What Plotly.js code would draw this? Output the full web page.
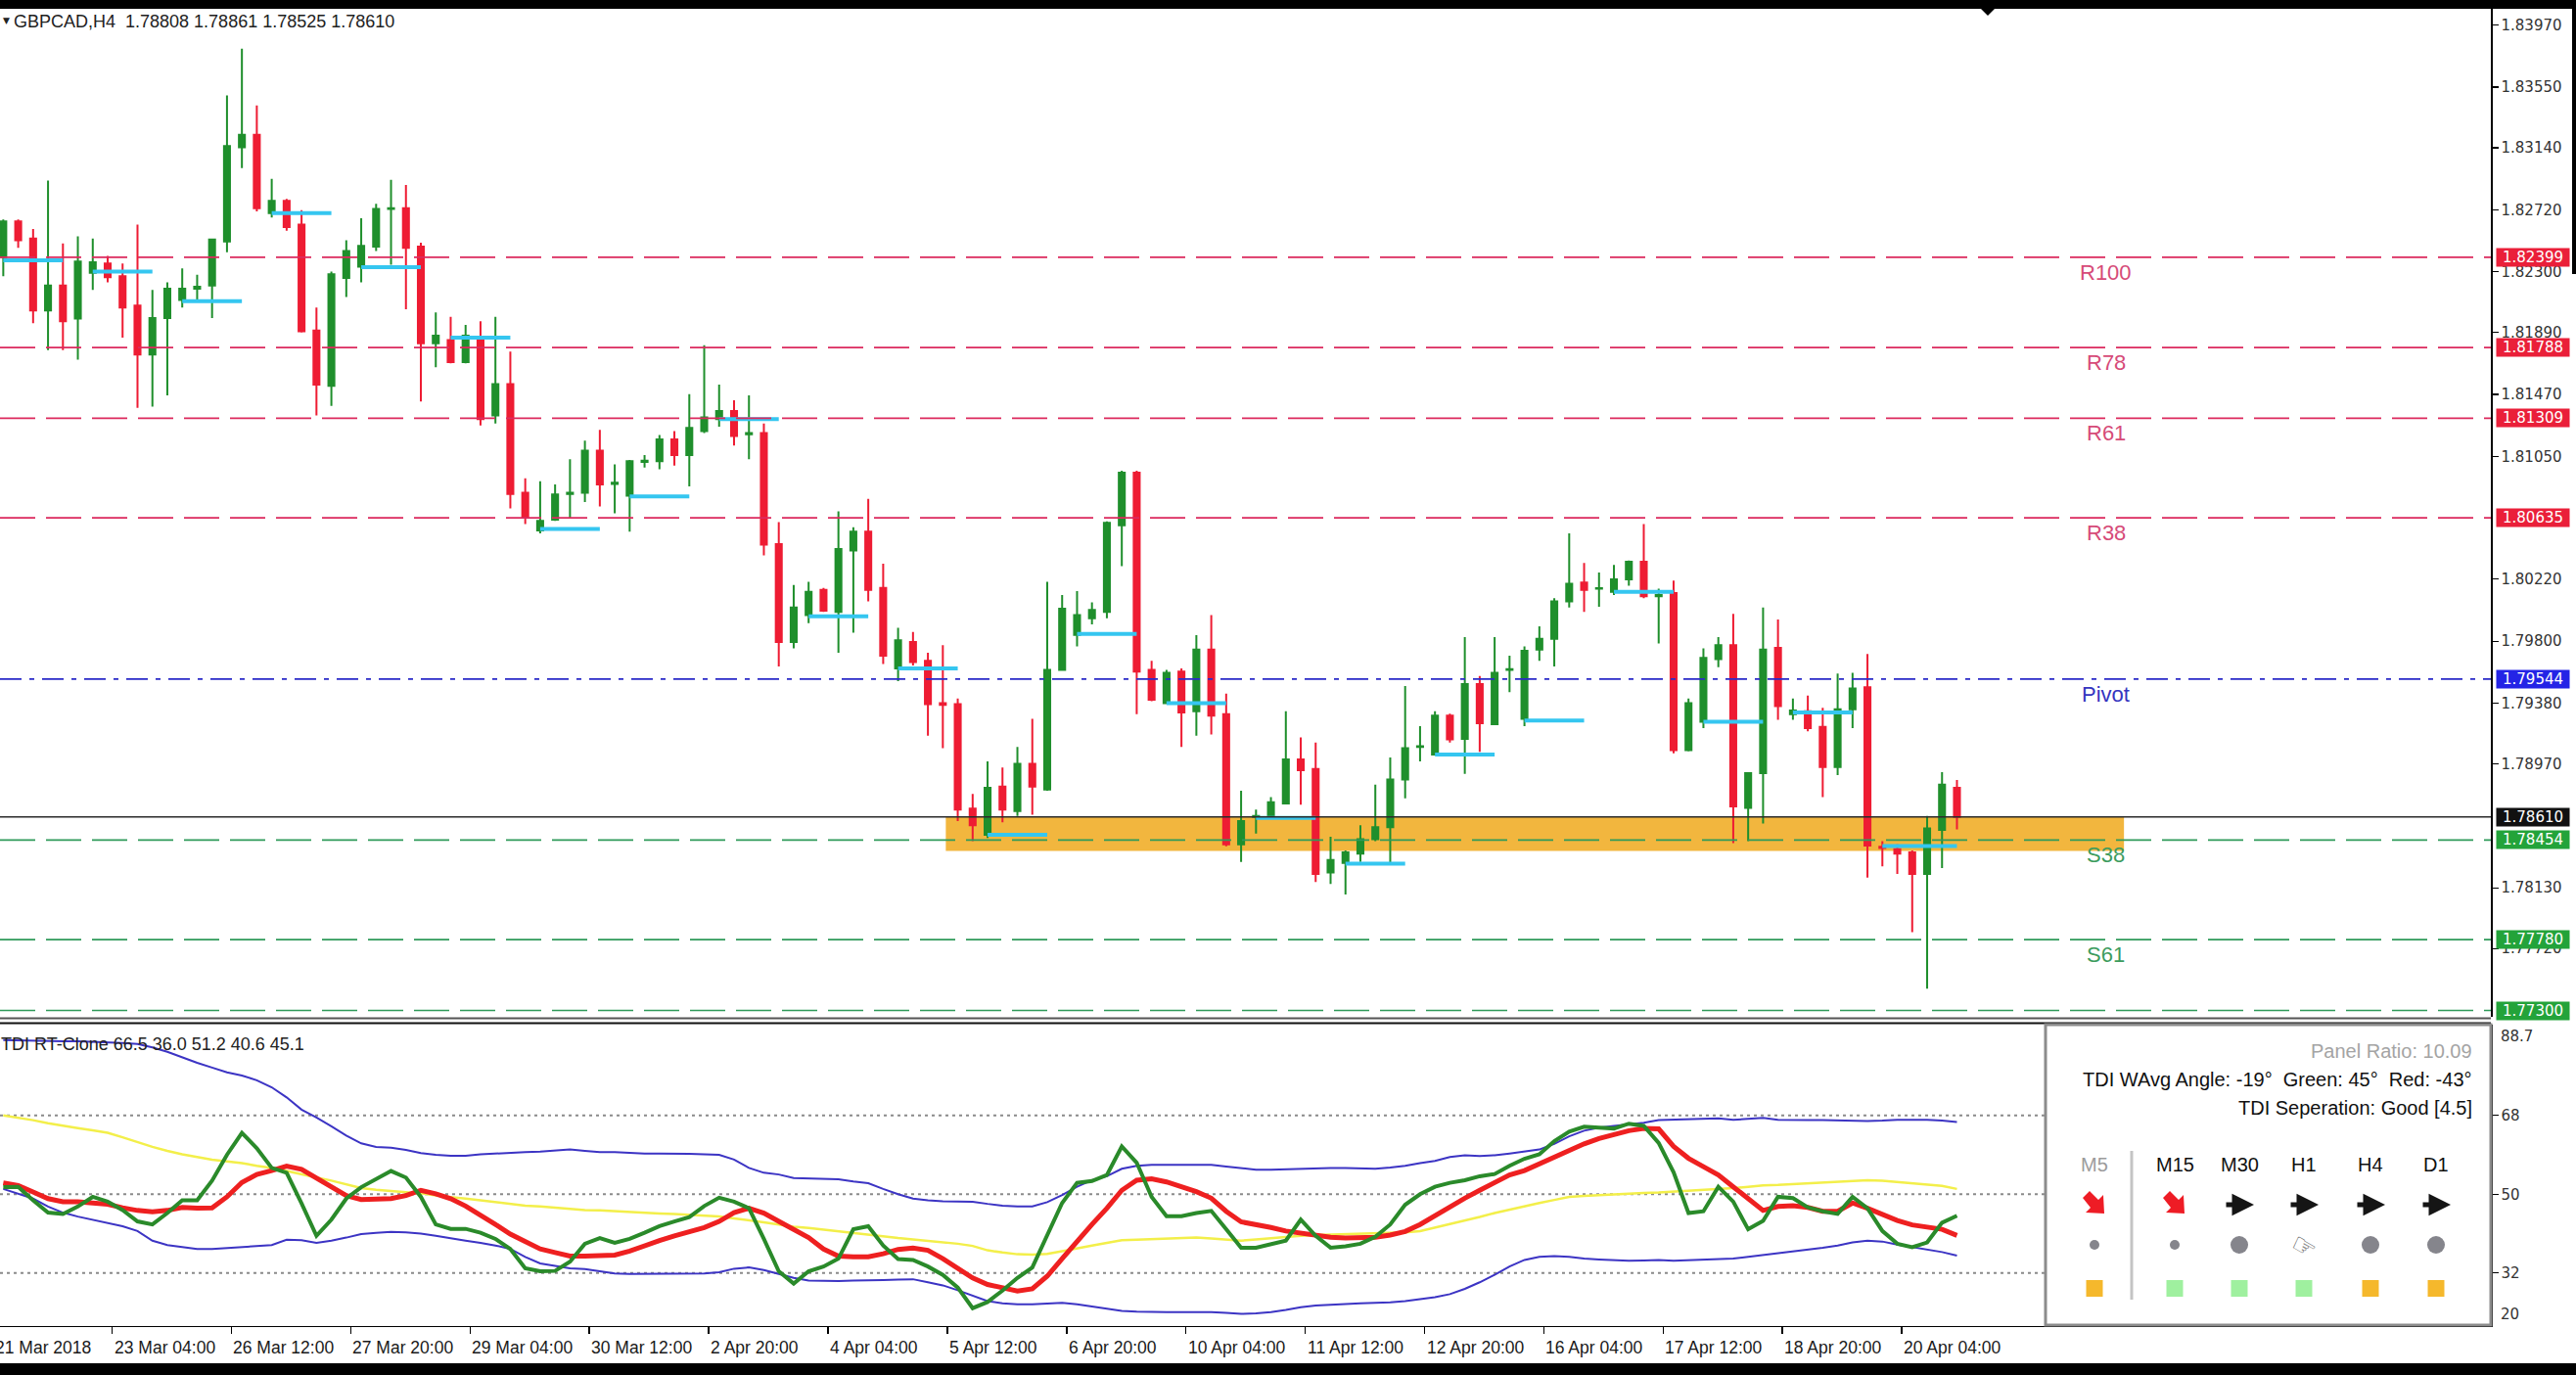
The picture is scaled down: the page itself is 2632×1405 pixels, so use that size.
<!DOCTYPE html>
<html><head><meta charset="utf-8">
<script src="https://cdn.plot.ly/plotly-3.0.1.min.js"></script>
<style>html,body{margin:0;padding:0;background:#fff;overflow:hidden}#chart{width:2632px;height:1405px}</style>
</head><body><div id="chart"></div>
<script>
// ---------------- DATA ----------------
const symbolHeader = "GBPCAD,H4  1.78808 1.78861 1.78525 1.78610";
const tdiHeader = "TDI RT-Clone 66.5 36.0 51.2 40.6 45.1";

const opens = [
1.82399,1.82641,1.82526,1.82038,1.82208,1.81983,1.82293,1.82357,1.82271,1.82072,
1.81740,1.81987,1.82109,1.82186,1.82208,1.82505,1.83143,1.83228,1.82697,1.82781,
1.82620,1.81902,1.81528,1.82259,1.82335,1.82471,1.82726,1.82730,1.82471,1.81817,
1.81838,1.81689,1.81860,1.81328,1.81540,1.80805,1.80550,1.80622,1.80797,1.80805,
1.81090,1.80865,1.80784,1.81014,1.81018,1.81166,1.81060,1.81222,1.81303,1.81358,
1.81201,1.81209,1.80457,1.79794,1.79976,1.80147,1.79998,1.80414,1.80542,1.80160,
1.79615,1.79794,1.79666,1.79381,1.79373,1.78667,1.78489,1.78816,1.78650,1.78969,
1.78795,1.79606,1.79843,1.79955,1.79998,1.80584,1.80941,1.79606,1.79381,1.79594,
1.79326,1.79743,1.79305,1.78425,1.78610,1.78616,1.78702,1.78999,1.78935,1.78234,
1.78298,1.78361,1.78459,1.78540,1.78863,1.79084,1.79033,1.79296,1.79139,1.79509,
1.79237,1.79606,1.79275,1.79743,1.79815,1.80070,1.80197,1.80155,1.80134,1.80219,
1.80338,1.80104,1.80125,1.79063,1.79254,1.79679,1.79772,1.78672,1.78906,1.79755,
1.79305,1.79326,1.79220,1.78948,1.79339,1.79488,1.78408,1.78391,1.78370,1.78225,
1.78523,1.78808];
const highs = [
1.82654,1.82654,1.82590,1.82918,1.82493,1.82540,1.82526,1.82407,1.82357,1.82620,
1.82178,1.82229,1.82323,1.82280,1.82526,1.83495,1.83810,1.83427,1.82930,1.82794,
1.82718,1.82059,1.82301,1.82514,1.82662,1.82760,1.82922,1.82888,1.82497,1.82025,
1.81995,1.81940,1.81966,1.81995,1.81761,1.80903,1.80882,1.80861,1.81031,1.81158,
1.81231,1.80997,1.81026,1.81060,1.81196,1.81222,1.81472,1.81804,1.81536,1.81430,
1.81464,1.81273,1.80606,1.80181,1.80202,1.80160,1.80678,1.80571,1.80763,1.80325,
1.79891,1.79862,1.79722,1.79772,1.79411,1.78765,1.78986,1.78944,1.79084,1.79275,
1.80202,1.80113,1.80139,1.80062,1.80610,1.80954,1.80954,1.79666,1.79606,1.79615,
1.79840,1.79976,1.79445,1.78787,1.78659,1.78744,1.79326,1.79148,1.79114,1.78476,
1.78383,1.78553,1.78829,1.79012,1.79496,1.79224,1.79326,1.79309,1.79828,1.79564,
1.79828,1.79701,1.79764,1.79900,1.80091,1.80529,1.80329,1.80265,1.80316,1.80345,
1.80593,1.80155,1.80210,1.79411,1.79751,1.79828,1.79985,1.78914,1.80028,1.79947,
1.79411,1.79432,1.79348,1.79581,1.79585,1.79713,1.78446,1.78425,1.78383,1.78616,
1.78914,1.78861];
const lows = [
1.82271,1.82463,1.81953,1.81770,1.81770,1.81706,1.82178,1.82229,1.81855,1.81379,
1.81388,1.81464,1.82059,1.82109,1.81987,1.82433,1.83002,1.82709,1.82667,1.82578,
1.81889,1.81328,1.81392,1.82130,1.82229,1.82441,1.82348,1.82046,1.81422,1.81655,
1.81680,1.81680,1.81260,1.81273,1.80699,1.80593,1.80529,1.80614,1.80631,1.80742,
1.80712,1.80665,1.80542,1.80975,1.80963,1.80988,1.80848,1.81209,1.81252,1.81124,
1.81031,1.80381,1.79628,1.79751,1.79921,1.79998,1.79722,1.79857,1.80070,1.79645,
1.79530,1.79636,1.79160,1.79075,1.78582,1.78446,1.78467,1.78574,1.78616,1.78625,
1.78787,1.79606,1.79764,1.79913,1.79955,1.80308,1.79305,1.79394,1.79373,1.79084,
1.79160,1.79169,1.78412,1.78306,1.78497,1.78616,1.78702,1.78693,1.78170,1.78157,
1.78085,1.78306,1.78446,1.78298,1.78736,1.78986,1.79029,1.79114,1.78901,1.79050,
1.79233,1.79454,1.79224,1.79666,1.79628,1.80028,1.79998,1.80032,1.80113,1.80176,
1.80091,1.79785,1.79041,1.79054,1.79211,1.79624,1.78433,1.78446,1.78566,1.79267,
1.79267,1.79190,1.78744,1.78893,1.79211,1.78200,1.78276,1.78225,1.77830,1.77448,
1.78264,1.78525];
const closes = [
1.82641,1.82514,1.82038,1.82208,1.81966,1.82370,1.82365,1.82263,1.82059,1.81740,
1.81987,1.82186,1.82186,1.82199,1.82518,1.83151,1.83228,1.82730,1.82781,1.82603,
1.81898,1.81536,1.82284,1.82441,1.82476,1.82726,1.82730,1.82463,1.81817,1.81868,
1.81689,1.81868,1.81303,1.81540,1.80797,1.80635,1.80614,1.80793,1.80805,1.81090,
1.80861,1.80873,1.81018,1.81022,1.81166,1.81060,1.81243,1.81315,1.81358,1.81188,
1.81209,1.80453,1.79794,1.80027,1.80134,1.80006,1.80423,1.80542,1.80147,1.79701,
1.79806,1.79658,1.79373,1.79369,1.78659,1.78553,1.78808,1.78659,1.78969,1.78816,
1.79606,1.80020,1.79976,1.80011,1.80601,1.80941,1.79594,1.79403,1.79585,1.79318,
1.79743,1.79296,1.78425,1.78582,1.78616,1.78710,1.78999,1.78927,1.78225,1.78319,
1.78370,1.78459,1.78540,1.78863,1.79075,1.79088,1.79296,1.79135,1.79509,1.79245,
1.79585,1.79610,1.79734,1.79815,1.80070,1.80189,1.80147,1.80159,1.80219,1.80338,
1.80104,1.80113,1.79063,1.79381,1.79687,1.79772,1.78681,1.78906,1.79743,1.79360,
1.79331,1.79211,1.78948,1.79339,1.79479,1.78416,1.78400,1.78361,1.78225,1.78532,
1.78829,1.78610];

const timeLabels = ["21 Mar 2018","23 Mar 04:00","26 Mar 12:00","27 Mar 20:00","29 Mar 04:00",
  "30 Mar 12:00","2 Apr 20:00","4 Apr 04:00","5 Apr 12:00","6 Apr 20:00","10 Apr 04:00",
  "11 Apr 12:00","12 Apr 20:00","16 Apr 04:00","17 Apr 12:00","18 Apr 20:00","20 Apr 04:00"];
const timeLabelBars = [-1,7,15,23,31,39,47,55,63,71,79,87,95,103,111,119,127];

const priceTicks = [1.83970,1.83550,1.83140,1.82720,1.82300,1.81890,1.81470,1.81050,
  1.80220,1.79800,1.79380,1.78970,1.78130,1.77720];

const levelNames  = ["R100","R78","R61","R38","Pivot","S38","S61",""];
const levelValues = [1.82399,1.81788,1.81309,1.80635,1.79544,1.78454,1.77780,1.77300];
const levelKinds  = ["res","res","res","res","pivot","sup","sup","sup"];
const lastPrice = 1.78610;

const segStart = [0,6,12,18,24,30,36,42,48,54,60,66,72,78,84,90,96,102,108,114,120,126];
const segEnd   = [4,10,16,22,28,34,40,46,52,58,64,70,76,82,88,94,100,106,112,118,124,131];
const segLevel = [1.82378,1.82301,1.82101,1.82697,1.82331,1.81855,1.80559,1.80780,1.81303,1.79968,
  1.79615,1.78489,1.79849,1.79381,1.78604,1.78294,1.79033,1.79262,1.80134,1.79254,1.79318,1.78413];

const zoneBars = [63.2, 142.2];
const zonePrices = [1.78380, 1.78610];

const tdiGreen = [
51.6,51.7,48.6,45.8,45.5,47.2,49.4,48.3,46.4,43.8,
43.1,45.7,48.6,48.6,53.1,59.0,64.0,60.5,56.0,54.9,
47.9,40.5,44.2,49.0,51.6,53.4,55.3,53.8,49.4,43.1,
42.1,42.1,41.2,39.8,37.5,33.1,32.4,32.5,34.6,38.7,
40.0,38.9,39.8,41.2,42.7,43.8,44.8,47.3,49.2,48.3,
46.8,39.8,32.4,29.6,32.4,33.5,35.3,42.0,42.7,38.3,
35.2,35.0,33.5,31.6,28.7,24.0,25.4,28.0,30.9,33.3,
40.9,48.0,52.6,53.0,54.4,60.9,57.2,49.4,45.0,45.0,
45.7,46.2,42.0,37.8,37.8,38.7,39.4,44.2,40.5,37.8,
38.1,38.7,40.3,43.1,47.6,50.0,51.7,52.6,53.2,54.1,
54.6,56.5,58.1,59.1,62.1,64.3,65.4,65.2,65.0,66.1,
65.6,61.7,55.0,45.7,46.1,51.7,48.3,42.0,43.9,49.4,
49.1,47.0,46.1,45.5,49.4,46.8,41.6,38.7,37.9,39.0,
43.5,45.1];
const tdiRed = [
52.6,52.0,50.5,49.0,48.3,48.3,48.0,47.7,46.9,46.3,
46.0,46.3,47.0,46.8,46.9,49.4,52.7,54.5,55.4,56.4,
55.7,53.7,52.0,49.7,48.8,48.8,49.0,49.7,50.9,50.1,
49.0,47.3,45.3,43.1,40.9,39.2,37.5,36.7,35.9,35.9,
35.9,36.1,37.0,38.3,39.4,40.5,41.4,42.4,43.8,45.8,
46.8,45.7,43.8,42.1,40.1,37.5,35.9,35.7,35.7,36.4,
37.4,37.7,37.2,35.3,33.1,30.9,29.4,28.7,27.9,28.4,
31.3,35.3,39.4,43.1,46.8,50.9,53.2,53.5,52.8,51.7,
50.6,49.1,46.1,43.7,43.1,42.4,41.6,41.1,40.5,40.2,
40.0,40.0,40.2,40.7,41.5,43.1,45.2,47.2,49.1,50.9,
52.8,54.4,55.4,56.9,58.7,60.2,61.5,62.7,63.5,64.5,
65.0,64.9,60.9,58.2,56.3,54.4,51.7,48.9,46.3,47.2,
47.4,47.0,46.1,46.1,48.0,46.8,45.4,44.0,43.0,42.5,
42.0,40.6];
const tdiYellow = [
68.0,67.5,66.9,66.2,65.6,65.1,64.6,64.0,63.0,61.9,
60.8,59.9,59.1,58.5,57.9,57.5,57.1,56.5,56.0,55.3,
54.5,53.8,53.1,52.2,51.4,51.0,50.7,50.5,50.2,49.7,
49.4,49.0,48.6,48.2,47.8,47.4,47.2,46.9,46.7,46.4,
46.3,46.1,46.0,45.8,45.6,45.5,45.3,45.1,44.9,44.5,
44.1,43.6,43.1,42.6,42.3,41.9,41.5,41.1,40.7,40.4,
40.0,39.7,39.4,39.1,38.7,38.2,37.2,36.7,36.3,36.2,
36.4,37.0,37.7,38.3,38.9,39.5,39.6,39.7,39.8,39.9,
40.1,39.9,39.6,39.4,39.7,40.0,40.3,40.5,40.7,40.8,
40.8,40.9,41.0,41.1,41.3,41.6,42.4,43.1,44.0,44.8,
45.7,46.5,47.3,48.0,48.7,49.4,49.6,49.8,50.0,50.1,
50.3,50.4,50.6,50.7,50.9,51.2,51.4,51.7,52.0,52.1,
52.3,52.4,52.6,52.8,53.0,53.2,53.1,52.8,52.6,52.3,
51.9,51.2];
const tdiUpper = [
85.2,85.1,85.0,85.0,84.9,84.9,84.8,84.7,84.5,84.3,
83.5,82.5,81.2,80.0,78.9,77.8,77.1,76.0,74.4,72.1,
69.3,67.5,65.5,63.4,61.6,60.8,60.6,60.1,59.4,59.0,
58.8,58.8,59.1,59.3,59.5,59.6,59.7,59.9,60.2,59.9,
59.6,59.6,59.4,59.3,59.3,59.3,59.2,59.1,59.0,57.9,
56.0,54.9,54.5,53.7,53.6,53.5,53.4,52.9,52.5,51.2,
50.0,49.0,48.6,48.4,48.3,48.3,47.8,47.4,47.2,47.2,
48.2,49.8,51.7,53.2,54.1,55.8,56.5,56.7,56.7,56.7,
56.7,56.7,56.3,55.9,55.6,55.6,55.7,55.8,56.0,56.0,
56.0,55.9,55.8,56.1,56.5,57.1,57.6,58.5,58.9,58.7,
58.9,59.3,59.8,60.2,61.5,63.2,64.5,65.2,65.6,66.0,
66.3,66.9,67.0,67.1,67.2,67.3,67.0,67.2,67.4,67.0,
66.9,66.9,66.9,66.8,66.7,66.7,66.8,67.0,67.0,67.0,
66.8,66.5];
const tdiLower = [
51.2,50.1,49.0,47.2,45.8,44.9,44.2,43.5,42.7,41.6,
39.4,38.4,37.9,37.5,37.5,37.7,37.9,38.1,38.4,39.6,
39.5,38.9,39.4,40.1,40.9,41.2,41.4,41.3,41.0,40.5,
39.9,39.4,38.9,38.3,37.5,35.7,34.2,33.7,33.1,32.9,
32.4,31.9,31.8,31.8,31.8,31.9,31.9,31.9,32.2,33.0,
33.3,32.7,31.8,30.9,30.3,30.2,30.2,30.3,30.3,30.4,
30.5,30.6,29.9,29.2,28.1,26.8,25.6,25.1,24.9,24.9,
25.0,25.2,24.9,24.4,24.0,23.4,23.2,23.1,23.1,23.1,
23.1,23.1,22.9,22.7,22.8,23.1,23.6,24.2,24.6,24.8,
24.9,25.1,25.2,25.3,25.6,26.1,26.5,27.2,28.4,29.9,
31.6,33.5,35.0,35.7,35.9,35.7,35.3,35.1,35.0,34.8,
34.9,35.0,34.8,34.9,35.0,35.2,35.3,35.7,36.1,36.6,
37.0,37.3,37.8,38.3,39.0,39.4,39.2,38.5,37.9,37.3,
36.8,36.0];
const tdiLevels = [32, 50, 68];
const tdiTicks = [32, 50, 68];
const tdiRange = [20, 88.7];

const dashPanelRatio = 10.09;
const dashAngles = [-19, 45, -43];
const dashSeparation = ["Good", 4.5];
const dashTimeframes = ["M5","M15","M30","H1","H4","D1"];
const dashArrows  = ["down","down","flat","flat","flat","flat"];
const dashDots    = ["small","small","big","hand","big","big"];
const dashSquares = ["orange","green","green","green","orange","orange"];

// ---------------- LAYOUT CONSTANTS ----------------
const W = 2632, H = 1405;
const px = v => v / W;
const py = v => 1 - v / H;
const X_RANGE = [-0.22, 166.8];
const X_DOMAIN = [0, 2545 / W];
const Y_RANGE = [1.77257, 1.84107];
const Y_DOMAIN = [py(1039), py(5)];
const Y2_DOMAIN = [py(1354.6), py(1047)];
const xPaper = v => X_DOMAIN[0] + (v - X_RANGE[0]) / (X_RANGE[1] - X_RANGE[0]) * (X_DOMAIN[1] - X_DOMAIN[0]);
const TICK_OFFSET = 0.3;
const dashCols = [2140, 2222, 2288, 2354, 2422, 2489];

const GREEN_C = '#1f8f2c', RED_C = '#ee1c33';
const levelStyle = {
  res:   {line:'#dc2a5e', text:'#d64b78', dash:'36px,11px'},
  pivot: {line:'#2a2ac8', text:'#3535c0', dash:'22px,8px,5px,8px'},
  sup:   {line:'#2f9a5a', text:'#3d9c5e', dash:'36px,11px'}
};
const tagColor = {res:'#ea1f39', pivot:'#2424e6', sup:'#23a33a'};

const xs = opens.map((_, i) => i);

// ---------------- TRACES ----------------
const traces = [];
traces.push({
  type:'candlestick', x:xs, open:opens, high:highs, low:lows, close:closes,
  xaxis:'x', yaxis:'y', hoverinfo:'none', whiskerwidth:0,
  increasing:{line:{color:GREEN_C, width:2}, fillcolor:GREEN_C},
  decreasing:{line:{color:RED_C, width:2}, fillcolor:RED_C},
  showlegend:false
});
const segX = [], segY = [];
segStart.forEach((s, k) => { segX.push(s, segEnd[k], null); segY.push(segLevel[k], segLevel[k], null); });
traces.push({type:'scatter', mode:'lines', x:segX, y:segY, xaxis:'x', yaxis:'y',
  line:{color:'#35c6f0', width:4}, hoverinfo:'none', showlegend:false, connectgaps:false});

const tdiLine = (arr, color, width) => ({type:'scatter', mode:'lines', x:xs, y:arr, xaxis:'x', yaxis:'y2',
  line:{color, width, shape:'linear'}, hoverinfo:'none', showlegend:false});
traces.push(tdiLine(tdiUpper, '#3c34c4', 2));
traces.push(tdiLine(tdiLower, '#3c34c4', 2));
traces.push(tdiLine(tdiYellow, '#f3ef4a', 2.5));
traces.push(tdiLine(tdiRed, '#ee2020', 5));
traces.push(tdiLine(tdiGreen, '#2a8a2a', 4));

// ---------------- SHAPES ----------------
const shapes = [];
shapes.push({type:'rect', xref:'x', yref:'y', x0:zoneBars[0], x1:zoneBars[1], y0:zonePrices[0], y1:zonePrices[1],
  fillcolor:'#f2b63e', line:{width:0}, layer:'below'});
levelValues.forEach((v, k) => {
  const st = levelStyle[levelKinds[k]];
  shapes.push({type:'line', xref:'paper', yref:'y', x0:0, x1:X_DOMAIN[1], y0:v, y1:v,
    line:{color:st.line, width:1.7, dash:st.dash}, layer:'above'});
});
shapes.push({type:'line', xref:'paper', yref:'y', x0:0, x1:X_DOMAIN[1], y0:lastPrice, y1:lastPrice,
  line:{color:'#2a2a2a', width:1.5}, layer:'above'});
tdiLevels.forEach(v => shapes.push({type:'line', xref:'paper', yref:'y2', x0:0, x1:X_DOMAIN[1], y0:v, y1:v,
  line:{color:'#8a8a8a', width:2, dash:'3px,4px'}, layer:'below'}));
shapes.push({type:'line', xref:'paper', yref:'paper', x0:0, x1:X_DOMAIN[1], y0:py(1040.5), y1:py(1040.5), line:{color:'#555', width:2}});
shapes.push({type:'line', xref:'paper', yref:'paper', x0:0, x1:X_DOMAIN[1], y0:py(1045.5), y1:py(1045.5), line:{color:'#111', width:2}});
shapes.push({type:'rect', xref:'paper', yref:'paper', x0:0, x1:1, y0:py(9), y1:1, fillcolor:'#000', line:{width:0}});
shapes.push({type:'path', xref:'paper', yref:'paper',
  path:`M ${px(2023)},${py(8)} L ${px(2039)},${py(8)} L ${px(2031)},${py(16)} Z`, fillcolor:'#000', line:{width:0}});
shapes.push({type:'rect', xref:'paper', yref:'paper', x0:px(2628), x1:1, y0:py(280), y1:1, fillcolor:'#000', line:{width:0}});
shapes.push({type:'rect', xref:'paper', yref:'paper', x0:0, x1:1, y0:0, y1:py(1393), fillcolor:'#000', line:{width:0}});

shapes.push({type:'rect', xref:'paper', yref:'paper', x0:px(2090), x1:px(2545), y0:py(1354), y1:py(1047),
  fillcolor:'#ffffff', line:{color:'#8c8c8c', width:3}, layer:'above'});
shapes.push({type:'line', xref:'paper', yref:'paper', x0:px(2178), x1:px(2178), y0:py(1328), y1:py(1176),
  line:{color:'#c4c4c4', width:3}, layer:'above'});
const squareColor = {orange:'#f5b82c', green:'#9ff09f'};
dashTimeframes.forEach((tf, j) => {
  const cx = dashCols[j];
  const d = dashDots[j];
  if (d === 'small' || d === 'big') {
    const r = d === 'small' ? 5 : 9;
    shapes.push({type:'circle', xref:'paper', yref:'paper', x0:px(cx - r), x1:px(cx + r), y0:py(1272 + r), y1:py(1272 - r),
      fillcolor:'#85858c', line:{width:0}, layer:'above'});
  }
  shapes.push({type:'rect', xref:'paper', yref:'paper', x0:px(cx - 8.5), x1:px(cx + 8.5), y0:py(1325), y1:py(1308),
    fillcolor:squareColor[dashSquares[j]], line:{width:0}, layer:'above'});
  if (dashArrows[j] === 'down') {
    // thick south-east arrow: shaft + head drawn as one path
    const x0 = cx - 10, y0 = 1220, x1 = cx + 9, y1 = 1239;
    const p = [[cx - 12, 1224], [cx - 5, 1217], [cx + 4, 1226], [cx + 9, 1221], [cx + 10, 1240], [cx - 9, 1239], [cx - 4, 1234]];
    shapes.push({type:'path', xref:'paper', yref:'paper',
      path:'M ' + p.map(q => px(q[0]) + ',' + py(q[1])).join(' L ') + ' Z', fillcolor:'#ee1c25', line:{width:0}, layer:'above'});
  }
});

// ---------------- ANNOTATIONS ----------------
const ann = [];
const lab = {family:'Liberation Sans, Arial, sans-serif'};
ann.push({xref:'paper', yref:'paper', x:px(1), y:py(21), xanchor:'left', yanchor:'middle', showarrow:false,
  text:'▼', font:{family:'DejaVu Sans', size:9, color:'#222'}});
ann.push({xref:'paper', yref:'paper', x:px(12), y:py(22), xanchor:'left', yanchor:'middle', showarrow:false,
  text:symbolHeader.replace('  ', '&nbsp;&nbsp;'), font:{...lab, size:18, color:'#222'}});
ann.push({xref:'paper', yref:'paper', x:px(-1), y:py(1067), xanchor:'left', yanchor:'middle', showarrow:false,
  text:tdiHeader, font:{...lab, size:18, color:'#222'}});
timeLabels.forEach((t, k) => ann.push({xref:'paper', yref:'paper', x:xPaper(timeLabelBars[k] + TICK_OFFSET), y:py(1377),
  xanchor:'left', yanchor:'middle', showarrow:false, xshift:0, text:t, font:{...lab, size:17.5, color:'#1a1a1a'}}));
levelValues.forEach((v, k) => {
  const kind = levelKinds[k];
  if (levelNames[k]) ann.push({xref:'x', yref:'y', x:141, y:v, xanchor:'center', yanchor:'top', yshift:-1, showarrow:false,
    text:levelNames[k], font:{...lab, size:22, color:levelStyle[kind].text}});
  ann.push({xref:'paper', yref:'y', x:px(2550), y:v, xanchor:'left', yanchor:'middle', showarrow:false,
    text:v.toFixed(5), bgcolor:tagColor[kind], borderpad:1, width:72, height:16,
    font:{family:'DejaVu Sans', size:15, color:'#ffffff'}});
});
ann.push({xref:'paper', yref:'y', x:px(2550), y:lastPrice, xanchor:'left', yanchor:'middle', showarrow:false,
  text:lastPrice.toFixed(5), bgcolor:'#111111', borderpad:1, width:72, height:16,
  font:{family:'DejaVu Sans', size:15, color:'#ffffff'}});
ann.push({xref:'paper', yref:'y2', x:px(2553), y:tdiRange[1], xanchor:'left', yanchor:'top', showarrow:false, yshift:-1,
  text:String(tdiRange[1]), font:{family:'DejaVu Sans', size:15, color:'#333'}});
ann.push({xref:'paper', yref:'y2', x:px(2553), y:tdiRange[0], xanchor:'left', yanchor:'bottom', showarrow:false, yshift:1,
  text:String(tdiRange[0]), font:{family:'DejaVu Sans', size:15, color:'#333'}});
const deg = n => n + '°';
ann.push({xref:'paper', yref:'paper', x:px(2528), y:py(1074), xanchor:'right', yanchor:'middle', showarrow:false,
  text:'Panel Ratio: ' + dashPanelRatio.toFixed(2), font:{...lab, size:20, color:'#a4a4a4'}});
ann.push({xref:'paper', yref:'paper', x:px(2528), y:py(1103), xanchor:'right', yanchor:'middle', showarrow:false,
  text:'TDI WAvg Angle: ' + deg(dashAngles[0]) + '&nbsp;&nbsp;Green: ' + deg(dashAngles[1]) + '&nbsp;&nbsp;Red: ' + deg(dashAngles[2]),
  font:{...lab, size:20, color:'#111'}});
ann.push({xref:'paper', yref:'paper', x:px(2528), y:py(1132), xanchor:'right', yanchor:'middle', showarrow:false,
  text:'TDI Seperation: ' + dashSeparation[0] + ' [' + dashSeparation[1] + ']', font:{...lab, size:20, color:'#111'}});
dashTimeframes.forEach((tf, j) => {
  const cx = dashCols[j];
  ann.push({xref:'paper', yref:'paper', x:px(cx), y:py(1190), xanchor:'center', yanchor:'middle', showarrow:false,
    text:tf, font:{...lab, size:20, color: j === 0 ? '#9c9c9c' : '#111'}});
  if (dashArrows[j] === 'flat') {
    ann.push({xref:'paper', yref:'paper', x:px(cx + 15), y:py(1231), ax:-30, ay:0, showarrow:true, text:'',
      arrowhead:2, arrowsize:0.9, arrowwidth:5, arrowcolor:'#151515', standoff:0, startstandoff:0});
  }
  if (dashDots[j] === 'hand') {
    ann.push({xref:'paper', yref:'paper', x:px(cx), y:py(1273), xanchor:'center', yanchor:'middle', showarrow:false,
      text:'☞', textangle:30, font:{family:'DejaVu Sans', size:28, color:'#555'}});
  }
});

// ---------------- LAYOUT ----------------
const tickFont = {family:'DejaVu Sans', size:15, color:'#333'};
const layout = {
  width:W, height:H, margin:{l:0, r:0, t:0, b:0}, paper_bgcolor:'#fff', plot_bgcolor:'#fff',
  showlegend:false, boxgap:0.43, dragmode:false,
  xaxis:{domain:X_DOMAIN, range:X_RANGE, anchor:'y2', showgrid:false, zeroline:false, showline:true,
    linecolor:'#000', linewidth:1.5, ticks:'outside', ticklen:7, tickwidth:1.5, tickcolor:'#000',
    tickvals:timeLabelBars.map(b => b + TICK_OFFSET), ticktext:timeLabelBars.map(() => ''), showticklabels:false,
    rangeslider:{visible:false}, fixedrange:true},
  yaxis:{domain:Y_DOMAIN, range:Y_RANGE, anchor:'x', side:'right', showgrid:false, zeroline:false,
    showline:true, linecolor:'#000', linewidth:1.5, ticks:'outside', ticklen:6, tickcolor:'#000', tickwidth:1.2,
    tickvals:priceTicks, ticktext:priceTicks.map(v => v.toFixed(5)), tickfont:tickFont, fixedrange:true},
  yaxis2:{domain:Y2_DOMAIN, range:tdiRange, anchor:'x', side:'right', showgrid:false, zeroline:false,
    showline:true, linecolor:'#000', linewidth:1.5, ticks:'outside', ticklen:6, tickcolor:'#000', tickwidth:1.2,
    tickvals:tdiTicks, ticktext:tdiTicks.map(String), tickfont:tickFont, fixedrange:true},
  shapes, annotations:ann
};
Plotly.newPlot('chart', traces, layout, {displayModeBar:false, staticPlot:true});
</script>
</body></html>
